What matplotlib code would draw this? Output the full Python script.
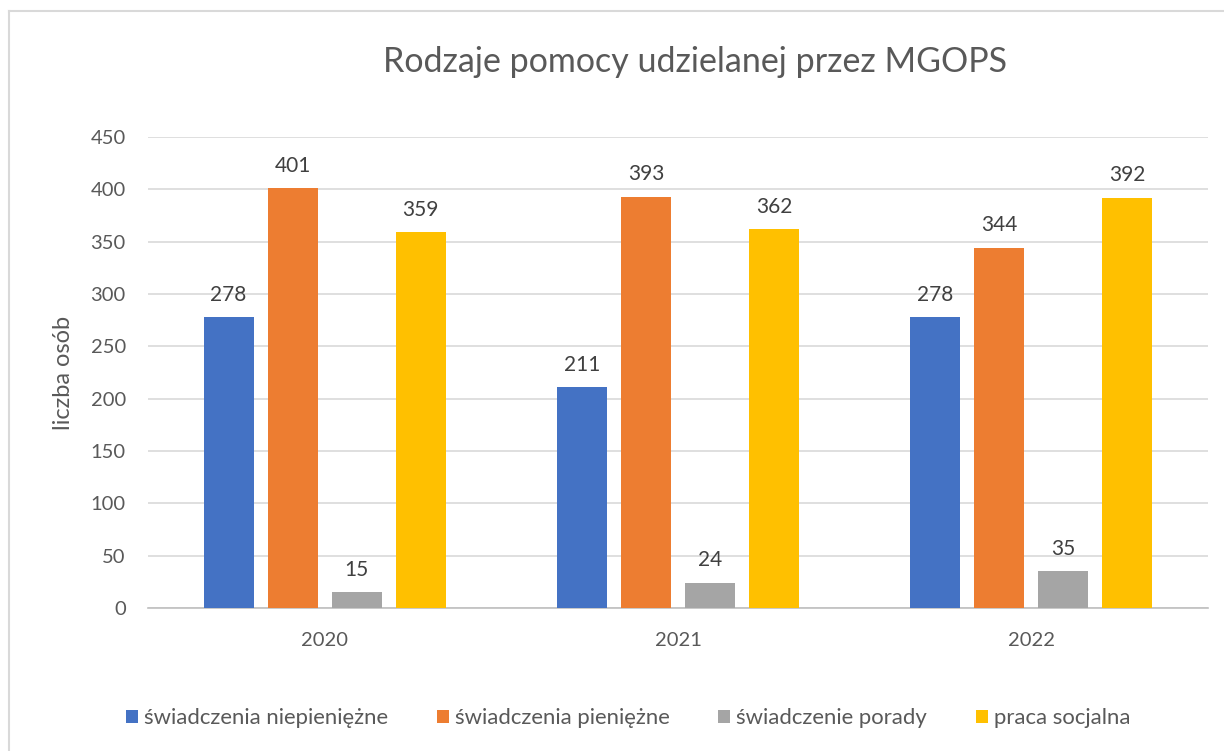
import matplotlib.pyplot as plt
import numpy as np
from matplotlib.lines import Line2D

years = ["2020", "2021", "2022"]
series_names = [
    "świadczenia niepieniężne",
    "świadczenia pieniężne",
    "świadczenie porady",
    "praca socjalna",
]
niepieniezne = [278, 211, 278]
pieniezne = [401, 393, 344]
porady = [15, 24, 35]
praca_socjalna = [359, 362, 392]

colors = ["#4472C4", "#ED7D31", "#A5A5A5", "#FFC000"]
text_color = "#595959"

plt.rcParams["font.family"] = ["Lato", "DejaVu Sans"]

W, H = 1224, 751
fig = plt.figure(figsize=(W / 100, H / 100), dpi=100)
ax = fig.add_axes([148 / W, (H - 608) / H, (1208 - 148) / W, (608 - 137) / H])

x = np.arange(len(years))
width = 50 / 353
offsets = [-96 / 353, -32 / 353, 32 / 353, 96 / 353]
all_series = [niepieniezne, pieniezne, porady, praca_socjalna]

for vals, off, col, name in zip(all_series, offsets, colors, series_names):
    bars = ax.bar(x + off, vals, width, color=col, label=name, zorder=3)
    ax.bar_label(bars, padding=9, fontsize=15, color="#404040")

ax.set_xlim(-0.5, 2.5)
ax.set_ylim(0, 450)
ax.set_yticks(range(0, 451, 50))
ax.set_xticks(x)
ax.set_xticklabels(years)
ax.tick_params(axis="both", length=0, labelsize=14.5, colors=text_color)
ax.tick_params(axis="x", pad=17)
ax.tick_params(axis="y", pad=16)
ax.grid(axis="y", color="#D9D9D9", linewidth=1.2, zorder=0)
for s in ["top", "right", "left"]:
    ax.spines[s].set_visible(False)
ax.spines["bottom"].set_color("#BFBFBF")
ax.spines["bottom"].set_linewidth(1.2)

ax.set_ylabel("liczba osób", fontsize=17, color=text_color, labelpad=12)

fig.text(695 / W, 1 - 62 / H, "Rodzaje pomocy udzielanej przez MGOPS",
         ha="center", va="center", fontsize=24.5, color=text_color)

# chart border (left and top edges visible)
fig.add_artist(Line2D([9 / W, 9 / W], [0, 1 - 11 / H], transform=fig.transFigure,
                      color="#D9D9D9", linewidth=1.5))
fig.add_artist(Line2D([9 / W, 1], [1 - 11 / H, 1 - 11 / H], transform=fig.transFigure,
                      color="#D9D9D9", linewidth=1.5))

fig.legend(loc="center", bbox_to_anchor=(628 / W, 1 - 718 / H), ncol=4,
           frameon=False, fontsize=15.9, handlelength=0.55, handleheight=0.55,
           handletextpad=0.27, columnspacing=2.2, labelcolor=text_color)

fig.savefig("out.png", dpi=100)
